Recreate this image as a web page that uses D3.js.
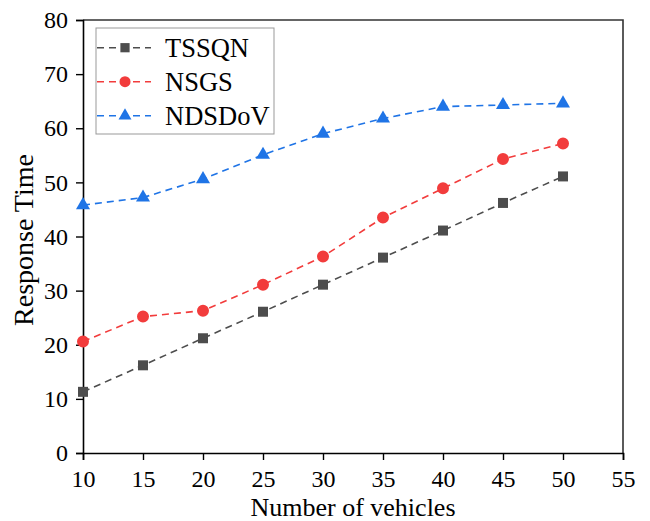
<!DOCTYPE html>
<html>
<head>
<meta charset="utf-8">
<script src="https://cdn.jsdelivr.net/npm/d3@7"></script>
<style>
  body { margin: 0; background: #fff; }
  text { font-family: "Liberation Serif", "Times New Roman", serif; }
</style>
</head>
<body>
<div id="chart"></div>
<script>
// response time vs number of vehicles

var vehicles = [10, 15, 20, 25, 30, 35, 40, 45, 50];
var tssqn  = [11.3, 16.2, 21.2, 26.1, 31.1, 36.1, 41.1, 46.2, 51.1];
var nsgs   = [20.6, 25.2, 26.3, 31.1, 36.3, 43.5, 48.9, 54.3, 57.2];
var ndsdov = [45.8, 47.2, 50.6, 55.1, 59.0, 61.8, 64.0, 64.3, 64.6];
var xTicks = [10, 15, 20, 25, 30, 35, 40, 45, 50, 55];
var yTicks = [0, 10, 20, 30, 40, 50, 60, 70, 80];

const chartWidth = 650;
const chartHeight = 521;
const margin = {left: 83, right: 27, top: 20, bottom: 68};

var series = [
  {name: "TSSQN", values: tssqn, color: "#4d4d4d", symbol: d3.symbolSquare, size: 100},
  {name: "NSGS", values: nsgs, color: "#f23c3c", symbol: d3.symbolCircle, size: 113},
  {name: "NDSDoV", values: ndsdov, color: "#1f74e6", symbol: d3.symbolTriangle, size: 85}
];

var svg = d3.select("#chart").append("svg")
  .attr("width", chartWidth)
  .attr("height", chartHeight);

var xScale = d3.scaleLinear().domain([10, 55]).range([margin.left, chartWidth - margin.right]);
var yScale = d3.scaleLinear().domain([0, 80]).range([chartHeight - margin.bottom, margin.top]);

// frame (top + right)
svg.append("path")
  .attr("d", "M" + xScale(10) + "," + yScale(80) + "H" + xScale(55) + "V" + yScale(0))
  .attr("fill", "none")
  .attr("stroke", "#333")
  .attr("stroke-width", 1.6);

// axes
var xAxis = svg.append("g")
  .attr("transform", "translate(0," + yScale(0) + ")")
  .call(d3.axisBottom(xScale).tickValues(xTicks).tickSize(7).tickPadding(10).tickFormat(d3.format("d")));

var yAxis = svg.append("g")
  .attr("transform", "translate(" + xScale(10) + ",0)")
  .call(d3.axisLeft(yScale).tickValues(yTicks).tickSize(7).tickPadding(8).tickFormat(d3.format("d")));

[xAxis, yAxis].forEach(function(ax) {
  ax.select(".domain").attr("stroke", "#000").attr("stroke-width", 1.6);
  ax.selectAll(".tick line").attr("stroke", "#000").attr("stroke-width", 1.4);
  ax.selectAll(".tick text")
    .attr("fill", "#000")
    .style("font-family", "'Liberation Serif', 'Times New Roman', serif")
    .style("font-size", "24px");
});

// axis titles
svg.append("text")
  .attr("x", (xScale(10) + xScale(55)) / 2)
  .attr("y", 516)
  .attr("text-anchor", "middle")
  .style("font-size", "26px")
  .text("Number of vehicles");

svg.append("text")
  .attr("transform", "translate(33,240) rotate(-90)")
  .attr("text-anchor", "middle")
  .style("font-size", "28px")
  .text("Response Time");

// lines and markers
var lineGenerator = d3.line()
  .x(function(d, i) { return xScale(vehicles[i]); })
  .y(function(d) { return yScale(d); });

series.forEach(function(s) {
  svg.append("path")
    .attr("d", lineGenerator(s.values))
    .attr("fill", "none")
    .attr("stroke", s.color)
    .attr("stroke-width", 1.6)
    .attr("stroke-dasharray", "7,5");

  svg.selectAll(null)
    .data(s.values)
    .enter()
    .append("path")
    .attr("d", d3.symbol().type(s.symbol).size(s.size))
    .attr("transform", function(d, i) { return "translate(" + xScale(vehicles[i]) + "," + yScale(d) + ")"; })
    .attr("fill", s.color);
});

// legend
var legend = svg.append("g");
legend.append("rect")
  .attr("x", 96)
  .attr("y", 28)
  .attr("width", 178)
  .attr("height", 106)
  .attr("fill", "#fff")
  .attr("stroke", "#999")
  .attr("stroke-width", 1);

series.forEach(function(s, i) {
  var ly = 47.7 + i * 34;
  legend.append("line")
    .attr("x1", 97).attr("x2", 151)
    .attr("y1", ly).attr("y2", ly)
    .attr("stroke", s.color)
    .attr("stroke-width", 1.6)
    .attr("stroke-dasharray", "7,5");
  legend.append("path")
    .attr("d", d3.symbol().type(s.symbol).size(s.size * 0.85))
    .attr("transform", "translate(125," + ly + ")")
    .attr("fill", s.color);
  legend.append("text")
    .attr("x", 165)
    .attr("y", ly + 9)
    .style("font-size", "26.5px")
    .text(s.name);
});
</script>
</body>
</html>
